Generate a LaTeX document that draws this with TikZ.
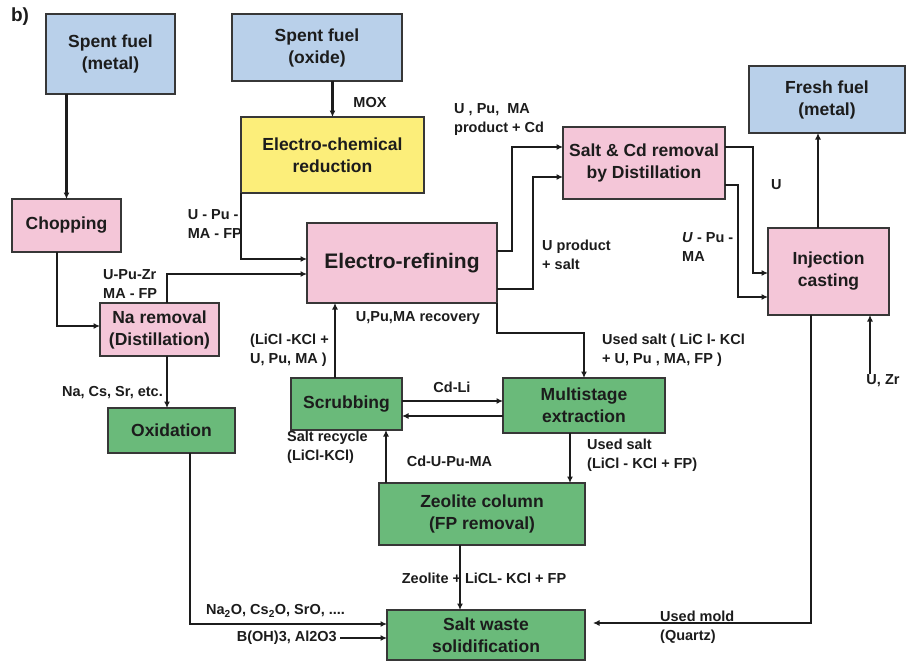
\documentclass[tikz,border=0pt]{standalone}
\usepackage{fontspec}
\setmainfont{Liberation Sans}
\usetikzlibrary{arrows.meta}
\definecolor{bxblue}{RGB}{185,208,234}
\definecolor{bxpink}{RGB}{244,198,216}
\definecolor{bxyellow}{RGB}{252,238,122}
\definecolor{bxgreen}{RGB}{106,186,122}
\definecolor{ink}{RGB}{28,28,28}
\definecolor{edge}{RGB}{55,55,55}
\tikzset{
  box/.style={draw=edge, line width=1.8pt, inner sep=0pt, outer sep=0pt, align=center,
    text=ink, font=\fontsize{17.5}{22}\selectfont\bfseries},
  lbl/.style={inner sep=1pt, text=ink, font=\fontsize{14.5}{19}\selectfont\bfseries},
  arr/.style={draw=ink, line width=2.5pt, -{Latex[length=6.5pt,width=6pt]}},
  ln/.style={draw=ink, line width=2.5pt}
}
\begin{document}
\begin{tikzpicture}[x=1pt,y=-1pt]
\useasboundingbox (0,0) rectangle (908,661);
\fill[white] (0,0) rectangle (908,661);
\node[lbl, font=\fontsize{19}{22}\selectfont\bfseries] (b) at (20,17) {b)};
% boxes
\node[box, fill=bxblue, minimum width=129pt, minimum height=80pt] (sfm) at (110.5,54) {Spent fuel\\(metal)};
\node[box, fill=bxblue, minimum width=170pt, minimum height=67pt] (sfo) at (317,47.5) {Spent fuel\\(oxide)};
\node[box, fill=bxyellow, minimum width=183pt, minimum height=76pt] (ecr) at (332.5,155) {Electro-chemical\\reduction};
\node[box, fill=bxpink, minimum width=109pt, minimum height=53pt] (chop) at (66.5,225.5) {Chopping};
\node[box, fill=bxpink, minimum width=119pt, minimum height=53pt] (na) at (159.5,329.5) {Na removal\\(Distillation)};
\node[box, fill=bxpink, minimum width=190pt, minimum height=80pt, font=\fontsize{21}{24}\selectfont\bfseries] (er) at (402,263) {Electro-refining};
\node[box, fill=bxgreen, minimum width=127pt, minimum height=45pt] (ox) at (171.5,430.5) {Oxidation};
\node[box, fill=bxgreen, minimum width=111pt, minimum height=52pt] (scr) at (346.5,404) {Scrubbing};
\node[box, fill=bxgreen, minimum width=162pt, minimum height=55pt] (mse) at (584,405.5) {Multistage\\extraction};
\node[box, fill=bxgreen, minimum width=206pt, minimum height=62pt] (zeo) at (482,514) {Zeolite column\\(FP removal)};
\node[box, fill=bxgreen, minimum width=198pt, minimum height=50pt] (sws) at (486,635) {Salt waste\\solidification};
\node[box, fill=bxpink, minimum width=162pt, minimum height=72pt] (scd) at (644,163) {Salt \& Cd removal\\by Distillation};
\node[box, fill=bxblue, minimum width=156pt, minimum height=67pt] (ff) at (827,99.5) {Fresh fuel\\(metal)};
\node[box, fill=bxpink, minimum width=121pt, minimum height=87pt] (inj) at (828.5,271.5) {Injection\\casting};
% labels
\node[lbl] (mox) at (370,103) {MOX};
\node[lbl, anchor=east, align=left] (upmf) at (243,224) {U - Pu -\\MA - FP};
\node[lbl, anchor=west, align=left] (upz) at (102,284.5) {U-Pu-Zr\\MA - FP};
\node[lbl, anchor=east] (ncs) at (164,393) {Na, Cs, Sr, etc.};
\node[lbl, anchor=west, align=left] (lkc) at (249,350) {(LiCl -KCl +\\U, Pu, MA )};
\node[lbl] (rec) at (418,318) {U,Pu,MA recovery};
\node[lbl, anchor=west, align=left] (us1) at (601,350.5) {Used salt ( LiC l- KCl\\+ U, Pu , MA, FP )};
\node[lbl] (cdli) at (452,387) {Cd-Li};
\node[lbl, anchor=west, align=left] (srec) at (286,447.5) {Salt recycle\\(LiCl-KCl)};
\node[lbl] (cdu) at (449.5,461) {Cd-U-Pu-MA};
\node[lbl, anchor=west, align=left] (us2) at (586,455) {Used salt\\(LiCl - KCl + FP)};
\node[lbl] (zlk) at (484,578) {Zeolite + LiCL- KCl + FP};
\node[lbl, anchor=west] (nao) at (205,611) {Na\textsubscript{2}O, Cs\textsubscript{2}O, SrO, ....};
\node[lbl, anchor=east, inner sep=3pt] (boh) at (340,638) {B(OH)3, Al2O3};
\node[lbl, anchor=west, align=left] (mold) at (659,627) {Used mold\\(Quartz)};
\node[lbl, anchor=west, align=left] (upc) at (453,119.5) {U , Pu,\ \ MA\\product + Cd};
\node[lbl, anchor=west, align=left] (ups) at (541,254.5) {U product\\+ salt};
\node[lbl, anchor=west] (ul) at (770,185) {U};
\node[lbl, anchor=west, align=left] (upma) at (681,247) {\textit{U} - Pu -\\MA};
\node[lbl] (uzr) at (883,381) {U, Zr};
% connectors
\draw[arr] (chop.north |- sfm.south) -- (chop.north);
\draw[arr] (ecr.north |- sfo.south) -- (ecr.north);
\draw[arr] (ecr.south west) |- ([yshift=4pt]er.west);
\draw[arr] ([xshift=7.5pt]na.north) |- ([yshift=-11pt]er.west);
\draw[arr] ([xshift=-9.5pt]chop.south) |- ([yshift=3.5pt]na.west);
\draw[arr] ([xshift=7.5pt]na.south) -- ([xshift=7.5pt]na.south |- ox.north);
\draw[arr] ([xshift=-11.5pt]scr.north) -- ([xshift=-11.5pt]scr.north |- er.south);
\draw[arr] (er.south east) -- ++(0,30) -| (mse.north);
\draw[arr] ([yshift=3pt]scr.east) -- ([yshift=3pt]scr.east -| mse.west);
\draw[arr] ([yshift=-12pt]scr.east -| mse.west) -- ([yshift=-12pt]scr.east);
\draw[arr] ([xshift=-14pt]mse.south) -- ([xshift=-14pt]mse.south |- zeo.north);
\draw[arr] ([xshift=39.5pt]scr.south |- zeo.north) -- ([xshift=39.5pt]scr.south);
\draw[arr] ([xshift=-22pt]zeo.south) -- ([xshift=-22pt]zeo.south |- sws.north);
\draw[arr] ([xshift=18.5pt]ox.south) |- ([yshift=11pt]sws.west);
\draw[arr] (boh.east) -- (boh.east -| sws.west);
\draw[arr, shorten >=8pt] ([xshift=-17.5pt]inj.south) |- ([yshift=12pt]sws.east);
\draw[arr] ([xshift=-10.5pt]inj.north) -- ([xshift=-10.5pt]inj.north |- ff.south);
\draw[arr] ([xshift=-13pt]uzr.north) -- ([xshift=-13pt]uzr.north |- inj.south);
\draw[arr] ([yshift=16pt]scd.east) -- ++(28,0) |- ([yshift=-1.5pt]inj.west);
\draw[arr] ([yshift=-22pt]scd.east) -- ++(13,0) |- ([yshift=-25.5pt]inj.west);
\draw[arr] ([yshift=12pt]er.east) -- ++(15,0) |- ([yshift=16pt]scd.west);
\draw[arr] ([yshift=-26pt]er.east) -- ++(36,0) |- ([yshift=-14pt]scd.west);
\end{tikzpicture}
\end{document}
